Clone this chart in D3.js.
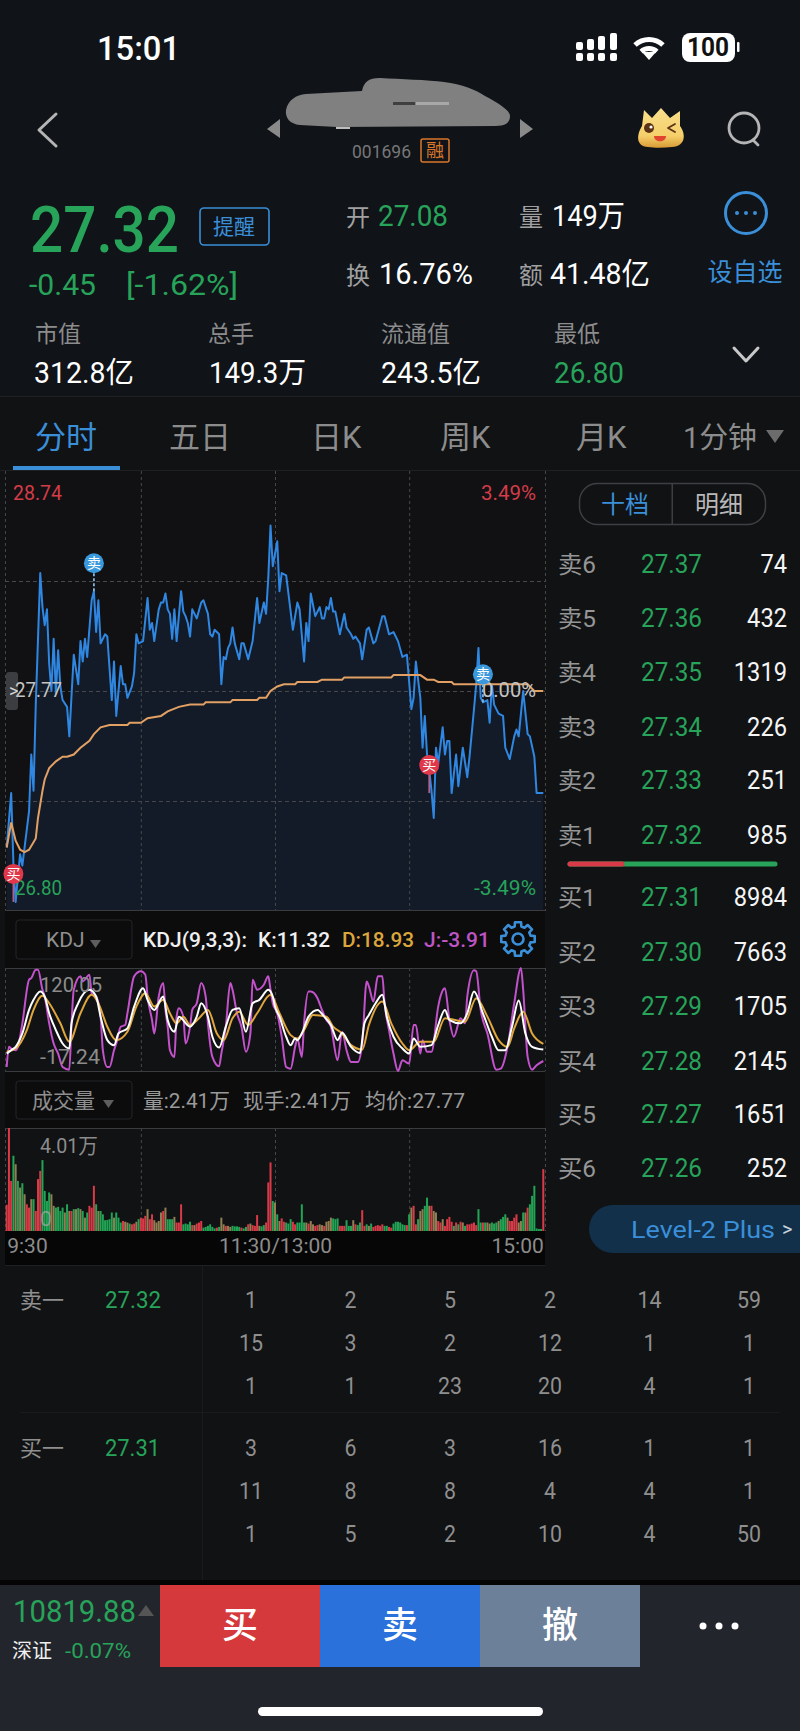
<!DOCTYPE html>
<html>
<head>
<meta charset="utf-8">
<script src="https://cdn.jsdelivr.net/npm/d3@7"></script>
<style>
  html, body { margin: 0; padding: 0; background: #111214; }
  svg { display: block; }
  text { font-family: Roboto, "Noto Sans CJK SC", sans-serif; }
</style>
</head>
<body>
<script>
// minute line (minute index from 9:30, price)
var priceMin = [0,2,3,4,5,6,7,8,10,11,12,13,15,16,17,18,19,20,21,22,23,24,25,27,28,30,32,33,34,35,36,38,39,40,41,42,44,45,47,48,49,51,52,53,54,56,57,58,59,61,63,64,65,66,68,69,70,71,72,73,74,75,76,78,79,80,81,82,83,85,87,88,90,91,92,93,95,96,97,98,99,100,101,102,104,105,106,108,110,112,113,115,116,117,118,119,121,122,123,125,126,128,130,131,133,134,135,136,138,140,141,142,143,144,145,146,147,149,151,152,154,155,156,158,159,161,162,164,165,168,169,171,173,175,177,179,181,182,183,185,186,187,188,189,190,191,192,193,195,196,197,198,199,201,202,204,206,207,209,210,211,212,213,215,216,217,218,220,222,223,225,227,228,229,231,233,234,236,237,240];
var priceVal = [27.08,27.32,27.01,26.84,26.95,27.05,27.00,27.08,27.24,27.49,27.33,27.71,28.29,28.14,28.06,28.13,27.89,27.77,28.00,27.76,27.95,27.79,27.73,27.70,27.57,27.93,27.80,27.99,27.90,28.00,27.92,28.17,28.21,28.03,28.17,27.98,28.02,28.01,27.73,27.90,27.66,27.88,27.80,27.80,27.74,27.79,27.85,28.02,27.98,27.99,28.18,28.04,28.07,27.99,28.13,28.16,28.16,28.20,28.13,28.11,28.00,28.13,27.99,28.21,28.12,28.10,28.07,28.01,28.13,28.09,28.16,28.17,28.11,28.02,28.01,28.04,28.02,27.80,27.92,27.91,27.96,27.98,28.05,27.98,27.91,27.98,27.98,27.91,27.99,28.18,28.07,28.16,28.11,28.27,28.50,28.32,28.43,28.21,28.29,28.28,28.20,28.04,28.16,28.13,27.90,28.07,27.99,28.20,28.10,28.14,28.09,28.09,28.14,28.13,28.18,28.12,28.12,28.02,28.11,28.05,28.02,28.00,28.01,27.98,27.91,28.04,28.05,27.98,27.99,28.10,28.10,28.02,28.03,27.99,27.92,27.93,27.69,27.74,27.90,27.74,27.52,27.66,27.49,27.42,27.33,27.21,27.52,27.45,27.61,27.49,27.55,27.55,27.32,27.49,27.35,27.52,27.39,27.48,27.69,27.80,27.96,27.74,27.72,27.73,27.63,27.80,27.71,27.67,27.66,27.52,27.47,27.57,27.60,27.57,27.77,27.58,27.57,27.48,27.32,27.32];
var avgMin = [0,2,4,6,8,10,13,14,16,17,19,22,25,27,30,33,37,39,42,46,54,55,60,63,69,72,77,82,88,89,100,101,112,113,116,118,121,124,129,130,139,141,150,151,172,173,185,188,191,193,199,200,233,236,240];
var avgVal = [27.08,27.19,27.11,27.07,27.06,27.07,27.12,27.21,27.33,27.38,27.43,27.46,27.48,27.48,27.49,27.52,27.55,27.58,27.61,27.62,27.62,27.63,27.63,27.65,27.66,27.68,27.70,27.71,27.71,27.72,27.72,27.73,27.73,27.74,27.74,27.77,27.79,27.80,27.80,27.81,27.81,27.82,27.82,27.83,27.83,27.84,27.84,27.82,27.82,27.81,27.81,27.80,27.80,27.77,27.77];

// KDJ(9,3,3)
var jMin = [0,1,2,4,5,7,10,11,13,14,16,17,19,21,23,25,28,29,30,33,34,37,38,40,42,43,45,46,48,49,51,53,54,57,60,62,63,65,66,68,70,71,72,73,75,76,77,79,80,82,83,85,87,89,90,92,95,96,98,100,101,103,105,107,109,110,112,115,117,118,119,121,123,125,127,129,130,132,133,135,136,139,141,143,145,148,150,152,154,157,159,161,162,164,166,168,169,171,173,175,177,180,182,183,185,186,188,190,193,194,196,198,200,203,205,206,209,210,212,215,219,221,224,227,230,231,233,235,237,240];
var jVal = [-11.9,15.0,12.7,10.5,15.0,46.3,104.4,106.6,117.8,117.8,91.0,82.0,46.3,19.4,6.0,-11.9,-15.5,46.3,91.0,108.9,102.2,111.1,86.5,82.0,55.2,10.5,-11.9,-11.9,10.5,19.4,41.8,44.0,59.7,108.9,115.6,111.1,82.0,50.7,32.8,82.0,99.9,64.2,41.8,10.5,1.5,55.2,66.4,55.2,19.4,41.8,64.2,73.1,99.9,82.0,46.3,1.5,-11.0,6.0,41.8,99.9,91.0,59.7,41.8,8.3,32.8,104.4,91.0,97.7,108.9,91.0,73.1,59.7,28.4,-11.9,-14.1,15.0,26.1,1.5,46.3,88.7,88.7,79.8,64.2,50.7,41.8,-2.9,35.1,10.5,-5.2,-5.2,19.4,102.2,95.5,75.3,108.9,108.9,73.1,37.3,6.0,-17.2,-2.9,-7.4,44.0,44.0,6.0,23.9,8.3,8.3,68.6,82.0,93.2,50.7,28.4,53.0,46.3,82.0,116.9,115.6,64.2,32.8,-15.5,-14.1,15.0,73.1,120.05,91.0,1.5,-15.5,-9.6,-3.91];
var kMin = [0,2,4,7,10,12,15,17,19,22,25,28,29,32,37,40,42,45,48,50,54,57,61,63,66,70,72,75,77,82,85,87,90,92,95,98,101,104,107,110,113,117,119,120,122,125,127,129,130,132,135,139,142,145,148,150,154,158,160,162,165,168,170,173,177,180,182,185,190,193,196,198,203,206,209,213,217,220,223,226,229,232,235,240];
var kVal = [6.0,10.5,15.0,32.8,64.2,77.6,88.7,82.0,59.7,37.3,19.4,12.7,46.3,73.1,91.0,82.0,55.2,23.9,17.2,32.8,39.6,68.6,93.2,77.6,64.2,82.0,50.7,35.1,55.2,41.8,55.2,73.1,55.2,28.4,14.1,41.8,64.2,66.4,35.1,73.1,77.6,91.0,82.0,68.6,55.2,28.4,17.2,26.1,23.9,32.8,55.2,64.2,55.2,44.0,23.9,33.7,15.0,6.9,46.3,57.4,73.1,84.3,55.2,28.4,12.7,6.0,26.1,15.0,17.2,44.0,64.2,50.7,46.3,59.7,88.7,59.7,28.4,10.5,10.5,41.8,76.7,32.8,15.0,11.32];
var dMin = [0,4,9,12,16,19,24,28,33,38,41,45,49,54,58,62,66,70,73,76,79,82,86,90,94,97,101,104,108,112,118,122,127,130,133,137,143,146,150,154,159,162,168,172,177,180,185,191,196,205,210,215,220,224,227,231,235,240];
var dVal = [8.3,12.7,37.3,64.2,82.9,73.1,46.3,21.7,59.7,84.3,73.1,41.8,23.9,35.1,68.6,86.5,68.6,77.6,59.7,46.3,55.2,44.0,53.0,64.2,32.8,23.9,53.0,61.9,44.0,59.7,84.3,59.7,30.6,26.1,37.3,57.4,55.2,41.8,32.8,17.2,11.4,44.0,75.3,46.3,19.4,10.5,21.7,21.7,53.0,48.5,79.8,55.2,23.9,15.0,39.5,61.9,32.8,18.93];

// volume per minute (万手), r up, g down, o flat
var volVal = [
  1.02,4.01,1.95,2.93,2.60,1.95,1.69,1.86,1.43,1.04,
  .91,1.24,1.24,.78,2.02,2.34,2.76,1.56,1.17,1.50,
  1.43,.98,.91,.94,.78,.91,.72,1.04,.78,.78,
  .85,.85,.89,.85,.78,.52,.72,.98,.91,1.76,
  1.04,.78,.78,.65,.42,.43,.46,.72,.52,.72,
  .52,.33,.39,.36,.33,.29,.26,.29,.36,.46,
  .52,.49,.59,.85,.46,.65,.42,.33,.39,.72,
  .78,.91,.46,.46,.46,.55,.33,.33,1.04,.26,
  .29,.26,.36,.23,.23,.29,.33,.39,.13,.16,
  .20,.26,.16,.10,.13,.16,.52,.26,.20,.20,
  .16,.20,.18,.18,.16,.13,.10,.16,.26,.29,
  .23,.20,.62,.20,.18,.23,.33,1.89,2.67,1.17,
  1.11,.65,.39,.49,.36,.33,.29,.46,.36,.26,
  .33,.33,1.04,.33,.33,.29,.39,.26,.20,.23,
  .26,.23,.20,.36,.39,.52,.49,.46,.49,.20,
  .20,.20,.42,.20,.20,.42,.26,.23,.33,.81,
  .20,.26,.20,.29,.16,.20,.23,.20,.26,.20,
  .20,.16,.13,.29,.36,.36,.33,.26,.23,.23,
  .65,.91,.98,.26,.46,.78,.85,.98,1.30,.98,
  .98,.78,.72,.39,.33,.46,.20,.46,.55,.36,
  .20,.33,.26,.36,.33,.20,.26,.26,.29,.33,
  .23,.85,.33,.33,.33,.33,.29,.33,.29,.33,
  .39,.46,.55,.65,.52,.39,.39,.52,.65,.33,
  .39,.72,.72,.91,1.04,1.37,1.76,.10,.08,.08,2.41];
var volDir = "rrrgogogor" + "rogrrrgggg" + "ooggggogor" + "gogogogrrr" + "goggggggog" +
  "ggroogrrog" + "rrrorroooo" + "rogggorrrg" + "gggrorrrgg" + "ggggrgooro" +
  "oggggrggro" + "rrroggrrrg" + "ogorrgggrr" + "ggggoroorr" + "oorooogggr" +
  "rrgggorggr" + "rgogrrrrrg" + "grrggggggr" + "gorrgooggo" + "roorrorrrr" +
  "grgrogrrrr" + "rggrgooggg" + "ogggorrrro" + "ogorggggggr";

// buy and sell flags
var flagMin = [3, 39, 189, 213];
var flagVal = [26.84, 28.21, 27.32, 27.72];
var flagTxt = ["买", "卖", "买", "卖"];

// order book
var askLabels = ["卖6", "卖5", "卖4", "卖3", "卖2", "卖1"];
var askPrices = ["27.37", "27.36", "27.35", "27.34", "27.33", "27.32"];
var askVols = [74, 432, 1319, 226, 251, 985];
var bidLabels = ["买1", "买2", "买3", "买4", "买5", "买6"];
var bidPrices = ["27.31", "27.30", "27.29", "27.28", "27.27", "27.26"];
var bidVols = [8984, 7663, 1705, 2145, 1651, 252];
var askQueue = [[1, 2, 5, 2, 14, 59], [15, 3, 2, 12, 1, 1], [1, 1, 23, 20, 4, 1]];
var bidQueue = [[3, 6, 3, 16, 1, 1], [11, 8, 8, 4, 4, 1], [1, 5, 2, 10, 4, 50]];

var width = 800, height = 1731;
var RED = "#d43c48", GREEN = "#27a35a", BLUE = "#3a8fd8", GRAY = "#8c8c8c";

var svg = d3.select("body").append("svg").attr("width", width).attr("height", height);

function rect(x, y, w, h, fill, rx) {
  return svg.append("rect").attr("x", x).attr("y", y).attr("width", w).attr("height", h)
    .attr("fill", fill).attr("rx", rx || 0);
}
function label(x, y, s, size, fill, anchor, weight, len) {
  var t = svg.append("text").attr("x", x).attr("y", y).text(s)
    .attr("font-size", size).attr("fill", fill)
    .attr("text-anchor", anchor || "start").attr("font-weight", weight || 400);
  if (len) t.attr("textLength", len).attr("lengthAdjust", "spacingAndGlyphs");
  return t;
}
function poly(points, fill) {
  return svg.append("polygon").attr("points", points).attr("fill", fill);
}
function stroke(d, color, w) {
  return svg.append("path").attr("d", d).attr("fill", "none").attr("stroke", color)
    .attr("stroke-width", w).attr("stroke-linecap", "round").attr("stroke-linejoin", "round");
}

// page backgrounds
rect(0, 0, width, height, "#111214");
rect(0, 0, width, 397, "#101318");
rect(0, 1580, width, 5, "#050505");
rect(0, 1585, width, 146, "#22252b");

// status bar
label(97, 60, "15:01", 34, "#fff", "start", 500, 83);
var signalX = [576, 587, 598, 610];
var signalTop = [42, 39, 36, 33];
signalX.forEach(function (x, i) {
  rect(x, signalTop[i], 7, 50 - signalTop[i], "#fff", 2);
  rect(x, 53, 7, 8, "#fff", 2);
});
var wifiArc = d3.arc().startAngle(-0.75).endAngle(0.75);
[9, 18].forEach(function (r) {
  svg.append("path").attr("transform", "translate(649,60)")
    .attr("d", wifiArc({ innerRadius: r, outerRadius: r + 5 })).attr("fill", "#fff");
});
poly("642,52 656,52 649,60", "#fff");
rect(682, 33, 53, 29, "#fff", 8);
rect(737, 42, 2.5, 10, "#fff", 1);
label(708, 56, "100", 26, "#111", "middle", 700, 42);

// nav bar
stroke("M56,114 L39,130 L56,146", "#b5b5b5", 3);
svg.append("path")
  .attr("d", "M286,110 C288,100 296,95 306,94 L362,91 C364,82 368,78 380,78 C400,79 428,80 444,82 C462,84 476,90 485,96 C498,103 510,110 510,116 C510,123 505,126 495,126 L337,127 L300,125 C290,124 285,118 286,110 Z")
  .attr("fill", "#808080");
rect(393, 102, 22, 3, "#3f3f3f");
rect(416, 102, 33, 3, "#a8a8a8");
rect(336, 127, 14, 2, "#bdbdbd");
poly("267,129 280,119 280,138", "#8a8a8a");
poly("520,119 533,129 520,138", "#8a8a8a");
label(352, 158, "001696", 18, "#777", "start", 400, 59);
svg.append("rect").attr("x", 421).attr("y", 139).attr("width", 28).attr("height", 23).attr("rx", 2)
  .attr("fill", "none").attr("stroke", "#d9772b").attr("stroke-width", 1.5);
label(435, 157, "融", 18, "#d9772b", "middle");

// mascot
var mascotFill = svg.append("defs").append("linearGradient").attr("id", "mascot")
  .attr("x1", 0).attr("x2", 0).attr("y1", 0).attr("y2", 1);
mascotFill.append("stop").attr("offset", "0%").attr("stop-color", "#f9df8d");
mascotFill.append("stop").attr("offset", "70%").attr("stop-color", "#f5cf6a");
mascotFill.append("stop").attr("offset", "100%").attr("stop-color", "#d99a35");
svg.append("path")
  .attr("d", "M644,110 L652,118 L661,108 L670,118 L680,111 L680,126 C686,134 686,146 672,147 C664,148 654,148 648,147 C635,146 637,134 642,126 Z")
  .attr("fill", "url(#mascot)");
svg.append("circle").attr("cx", 649).attr("cy", 128).attr("r", 5).attr("fill", "#5b3216");
svg.append("circle").attr("cx", 651).attr("cy", 127).attr("r", 1.6).attr("fill", "#fff");
stroke("M675,124 L668,128 L675,132", "#5b3216", 1.8);
svg.append("path").attr("d", "M654,136 L666,136 C666,143 654,143 654,136 Z").attr("fill", "#e2452d");

svg.append("circle").attr("cx", 744).attr("cy", 128).attr("r", 15)
  .attr("fill", "none").attr("stroke", "#b5b5b5").attr("stroke-width", 2.8);
stroke("M753,140 L758,145", "#b5b5b5", 2.8);

// quote block
label(30, 252, "27.32", 64, GREEN, "start", 500, 149);
svg.append("rect").attr("x", 200).attr("y", 208).attr("width", 69).attr("height", 37).attr("rx", 4)
  .attr("fill", "none").attr("stroke", BLUE).attr("stroke-width", 1.6);
label(234, 234, "提醒", 21, BLUE, "middle");
label(29, 295, "-0.45", 29, GREEN, "start", 400, 67);
label(126, 295, "[-1.62%]", 29, GREEN, "start", 400, 112);

label(346, 226, "开", 24, "#a0a0a0");
label(378, 226, "27.08", 30, GREEN, "start", 400, 70);
label(519, 226, "量", 24, "#a0a0a0");
label(552, 226, "149万", 30, "#fff", "start", 400, 73);
label(346, 284, "换", 24, "#a0a0a0");
label(379, 284, "16.76%", 30, "#fff", "start", 400, 94);
label(519, 284, "额", 24, "#a0a0a0");
label(550, 284, "41.48亿", 30, "#fff", "start", 400, 100);

svg.append("circle").attr("cx", 746).attr("cy", 213).attr("r", 20.5)
  .attr("fill", "none").attr("stroke", BLUE).attr("stroke-width", 3);
[737, 746, 755].forEach(function (x) {
  svg.append("circle").attr("cx", x).attr("cy", 213).attr("r", 2).attr("fill", BLUE);
});
label(745, 281, "设自选", 25, BLUE, "middle");

label(35, 342, "市值", 23, GRAY);
label(208, 342, "总手", 23, GRAY);
label(381, 342, "流通值", 23, GRAY);
label(554, 342, "最低", 23, GRAY);
label(34, 383, "312.8亿", 29, "#fff", "start", 400, 100);
label(209, 383, "149.3万", 29, "#fff", "start", 400, 97);
label(381, 383, "243.5亿", 29, "#fff", "start", 400, 100);
label(554, 383, "26.80", 29, GREEN, "start", 400, 70);
stroke("M734,348 L746,361 L758,348", "#c8c8c8", 3);
rect(0, 396, width, 1, "#1e2023");

// tabs
label(35, 448, "分时", 31, BLUE);
label(169, 448, "五日", 31, GRAY);
label(311, 448, "日K", 31, GRAY);
label(440, 448, "周K", 31, GRAY);
label(576, 448, "月K", 31, GRAY);
label(683, 448, "1分钟", 29, GRAY, "start", 400, 74);
poly("766,430 784,430 775,443", "#6c6c6c");
rect(13, 466, 107, 4, BLUE);
rect(0, 470, width, 1, "#1e2023");

// price panel
var x = d3.scaleLinear().domain([0, 240]).range([6.7, 543.3]);
var yPrice = d3.scaleLinear().domain([26.80, 28.74]).range([911, 471]);
var yKdj = d3.scaleLinear().domain([-17.24, 120.05]).range([1071, 968]);
var yVol = d3.scaleLinear().domain([0, 4.01]).range([1231, 1128]);

rect(5, 471, 540, 440, "#111113");

var priceData = d3.zip(priceMin, priceVal);
var avgData = d3.zip(avgMin, avgVal);

var area = d3.area().x(function (d) { return x(d[0]); })
  .y0(yPrice.range()[0]).y1(function (d) { return yPrice(d[1]); });
var line = d3.line().x(function (d) { return x(d[0]); }).y(function (d) { return yPrice(d[1]); });
svg.append("path").datum(priceData).attr("d", area).attr("fill", "#121b27");

function gridX(y0, y1) {
  var axis = d3.axisBottom(x).tickValues([-0.75, 60, 120, 180, 240.75]).tickSize(y1 - y0).tickFormat("");
  var g = svg.append("g").attr("transform", "translate(0," + y0 + ")").call(axis);
  g.select(".domain").remove();
  g.selectAll("line").attr("stroke", "#46484b").attr("stroke-dasharray", "3,3");
}
gridX(471, 911);
gridX(968, 1071);
gridX(1128, 1231);

var priceGrid = d3.axisLeft(yPrice).tickValues([27.285, 27.77, 28.255]).tickSize(-540).tickFormat("");
var pg = svg.append("g").attr("transform", "translate(5,0)").call(priceGrid);
pg.select(".domain").remove();
pg.selectAll("line").attr("stroke", "#46484b").attr("stroke-dasharray", "4,3");

svg.append("path").datum(priceData).attr("d", line).attr("fill", "none")
  .attr("stroke", "#2f87e2").attr("stroke-width", 2).attr("stroke-linejoin", "round");
svg.append("path").datum(avgData).attr("d", line).attr("fill", "none")
  .attr("stroke", "#e2a065").attr("stroke-width", 2);

rect(5, 910, 540, 1, "#3a3c40");

label(13, 500, "28.74", 21, RED, "start", 400, 49);
label(536, 500, "3.49%", 21, RED, "end", 400, 55);
label(15, 895, "26.80", 21, GREEN, "start", 400, 47);
label(536, 895, "-3.49%", 21, GREEN, "end", 400, 62);
rect(6, 672, 12, 38, "#3c3d40", 3);
label(9, 697, ">", 18, "#d8d8d8");
label(15, 697, "27.77", 21, "#c4c4c4", "start", 400, 47);
label(536, 697, "0.00%", 21, "#c4c4c4", "end", 400, 54);

flagMin.forEach(function (m, i) {
  var cx = x(m), py = yPrice(flagVal[i]), cy = py - 28;
  var isBuy = flagTxt[i] === "买";
  svg.append("line").attr("x1", cx).attr("x2", cx).attr("y1", cy).attr("y2", py)
    .attr("stroke", isBuy ? "#b0608e" : "#7fb6e0").attr("stroke-width", 1.8)
    .attr("stroke-dasharray", isBuy ? null : "3,2");
  svg.append("circle").attr("cx", cx).attr("cy", cy).attr("r", 10).attr("fill", isBuy ? "#e0384a" : "#3a98dc");
  label(cx, cy + 5, flagTxt[i], 14, "#fff", "middle");
});

// KDJ panel
rect(5, 911, 540, 57, "#0c0c0d");
svg.append("rect").attr("x", 16).attr("y", 920).attr("width", 116).attr("height", 39).attr("rx", 3)
  .attr("fill", "none").attr("stroke", "#232427");
label(46, 947, "KDJ", 21, "#8f8f8f");
poly("90,940 101,940 95.5,948", "#5e5e5e");
label(143, 947, "KDJ(9,3,3):", 20, "#f0f0f0", "start", 500, 104);
label(258, 947, "K:11.32", 20, "#f0f0f0", "start", 500, 72);
label(342, 947, "D:18.93", 20, "#dca63c", "start", 500, 72);
label(424, 947, "J:-3.91", 20, "#bd55c4", "start", 500, 66);

var gearPts = [];
for (var gi = 0; gi < 8; gi++) {
  var ga = gi * Math.PI / 4;
  [[-0.26, 13], [-0.18, 17], [0.18, 17], [0.26, 13]].forEach(function (p) {
    gearPts.push([p[1] * Math.cos(ga + p[0]), p[1] * Math.sin(ga + p[0])]);
  });
}
svg.append("path").attr("transform", "translate(518,939)")
  .attr("d", d3.line().curve(d3.curveLinearClosed)(gearPts))
  .attr("fill", "none").attr("stroke", BLUE).attr("stroke-width", 2.6).attr("stroke-linejoin", "round");
svg.append("circle").attr("cx", 518).attr("cy", 939).attr("r", 5.5)
  .attr("fill", "none").attr("stroke", BLUE).attr("stroke-width", 2.6);

rect(5, 968, 540, 1, "#3a3c40");
rect(5, 1071, 540, 1, "#3a3c40");

var kdjLine = d3.line().curve(d3.curveMonotoneX)
  .x(function (d) { return x(d[0]); }).y(function (d) { return yKdj(d[1]); });
[[jMin, jVal, "#c452cc"], [dMin, dVal, "#e0a63e"], [kMin, kVal, "#ffffff"]].forEach(function (s) {
  svg.append("path").datum(d3.zip(s[0], s[1])).attr("d", kdjLine).attr("fill", "none")
    .attr("stroke", s[2]).attr("stroke-width", 2).attr("stroke-linejoin", "round");
});
label(40, 992, "120.05", 21, "#8c8c8c", "start", 400, 62);
label(40, 1064, "-17.24", 21, "#8c8c8c", "start", 400, 60);

// volume panel
rect(5, 1072, 540, 56, "#0c0c0d");
svg.append("rect").attr("x", 16).attr("y", 1081).attr("width", 116).attr("height", 38).attr("rx", 3)
  .attr("fill", "none").attr("stroke", "#232427");
label(32, 1108, "成交量", 21, "#8f8f8f");
poly("103,1100 114,1100 108.5,1108", "#5e5e5e");
label(143, 1108, "量:2.41万", 21, "#9a9a9a", "start", 400, 87);
label(243, 1108, "现手:2.41万", 21, "#9a9a9a", "start", 400, 108);
label(365, 1108, "均价:27.77", 21, "#9a9a9a", "start", 400, 100);
rect(5, 1128, 540, 1, "#3a3c40");

var colorOf = { r: "#d93a48", g: "#22a455", o: "#8f7f52" };
svg.selectAll("rect.vol").data(volVal).enter().append("rect")
  .attr("class", "vol")
  .attr("x", function (d, i) { return x(i) - 1; })
  .attr("width", 2)
  .attr("y", function (d) { return yVol(d); })
  .attr("height", function (d) { return yVol(0) - yVol(d); })
  .attr("fill", function (d, i) { return colorOf[volDir[i]]; });

label(40, 1153, "4.01万", 21, "#8c8c8c", "start", 400, 58);
label(40, 1226, "0", 21, "#a8a8a8").attr("opacity", 0.7);

rect(5, 1231, 540, 34, "#060606");
var timeAxis = d3.axisBottom(x).tickValues([0, 120, 240]).tickSize(0)
  .tickFormat(function (d) { return d === 0 ? "9:30" : d === 120 ? "11:30/13:00" : "15:00"; });
var tg = svg.append("g").attr("transform", "translate(0,1231)").call(timeAxis);
tg.select(".domain").remove();
tg.selectAll("text").attr("font-size", 21).attr("fill", "#8c8c8c").attr("dy", 0).attr("y", 22)
  .attr("font-family", "Roboto")
  .attr("text-anchor", function (d) { return d === 0 ? "start" : d === 240 ? "end" : "middle"; });
rect(5, 1265, 540, 1, "#1f2023");

// order book, right side
svg.append("rect").attr("x", 579.5).attr("y", 483.5).attr("width", 186).attr("height", 41).attr("rx", 18)
  .attr("fill", "none").attr("stroke", "#3d3f42").attr("stroke-width", 1.5);
rect(671.5, 484, 1.5, 40, "#3d3f42");
label(625, 513, "十档", 24, BLUE, "middle");
label(719, 513, "明细", 24, "#b8b8b8", "middle");

var askY = [564, 618, 672, 727, 780, 835];
var bidY = [897, 952, 1006, 1061, 1114, 1168];
function bookRows(labels, prices, vols, ys) {
  labels.forEach(function (s, i) {
    label(558, ys[i] + 9, s, 24, "#969696", "start", 400, 38);
    label(641, ys[i] + 9, prices[i], 25, GREEN, "start", 400, 61);
    label(787, ys[i] + 9, vols[i], 25, "#f5f5f5", "end", 400, String(vols[i]).length * 13.3);
  });
}
bookRows(askLabels, askPrices, askVols, askY);
bookRows(bidLabels, bidPrices, bidVols, bidY);
stroke("M570,864 L775,864", GREEN, 5);
stroke("M570,864 L622,864", "#d93a48", 5);

svg.append("path").attr("d", "M800,1205 L613,1205 A24,24 0 0 0 613,1253 L800,1253 Z").attr("fill", "#12304a");
label(631, 1238, "Level-2 Plus", 24, BLUE, "start", 400, 144);
label(782, 1236, ">", 20, "#c8d4de");

// time and sales summary
var queueX = [251, 350.5, 450, 550, 649.5, 749];
rect(202, 1266, 1, 314, "#1a1b1d");
rect(20, 1412, 760, 1, "#1a1b1d");
label(20, 1308, "卖一", 22, "#8f8f8f");
label(105, 1308, "27.32", 24, GREEN, "start", 400, 56);
label(20, 1456, "买一", 22, "#8f8f8f");
label(105, 1456, "27.31", 24, GREEN, "start", 400, 55);
var queueY = [1308, 1351, 1394];
askQueue.forEach(function (row, r) {
  row.forEach(function (v, c) {
    label(queueX[c], queueY[r], v, 24, "#8f8f8f", "middle", 400, String(v).length * 12);
  });
});
var queueY2 = [1456, 1499, 1542];
bidQueue.forEach(function (row, r) {
  row.forEach(function (v, c) {
    label(queueX[c], queueY2[r], v, 24, "#8f8f8f", "middle", 400, String(v).length * 12);
  });
});

// bottom bar
label(13, 1622, "10819.88", 31, GREEN, "start", 400, 123);
poly("138,1616 154,1616 146,1605", "#555");
label(12, 1658, "深证", 20, "#f0f0f0");
label(65, 1658, "-0.07%", 21, GREEN, "start", 400, 66);
rect(160, 1585, 160, 82, "#d5393b");
rect(320, 1585, 160, 82, "#2a71dc");
rect(480, 1585, 160, 82, "#6d8099");
label(240, 1638, "买", 36, "#fff", "middle", 500);
label(400, 1638, "卖", 36, "#fff", "middle", 500);
label(560, 1638, "撤", 36, "#fff", "middle", 500);
[703, 719, 735].forEach(function (cx) {
  svg.append("circle").attr("cx", cx).attr("cy", 1626).attr("r", 3.5).attr("fill", "#fff");
});
rect(258, 1707, 285, 9, "#fff", 4.5);
</script>
</body>
</html>
